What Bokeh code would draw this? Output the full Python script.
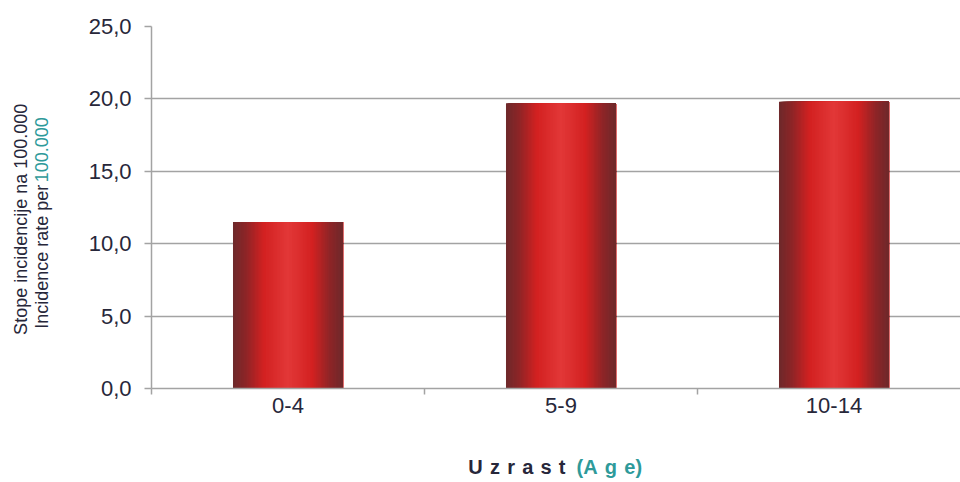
import math
from bokeh.plotting import figure
from bokeh.layouts import row, column
from bokeh.models import Range1d, FixedTicker
from bokeh.core.properties import value
from bokeh.embed import file_html
from bokeh.resources import INLINE

# ---- data ----
categories = ["0-4", "5-9", "10-14"]
values = [11.5, 19.7, 19.8]
y_ticks = [0, 5, 10, 15, 20, 25]
y_tick_labels = ["0,0", "5,0", "10,0", "15,0", "20,0", "25,0"]
y_title_1 = "Stope incidencije na 100.000"
y_title_2a = "Incidence rate per"
y_title_2b = "100.000"
x_title_a = "Uzrast"
x_title_b = "(Age)"

# ---- styles ----
TXT = "#27273a"
TEAL = "#2e9a9a"
GRID = "#a3a3a3"
FONT = "Liberation Sans"
stops = [(0.0, (0x6d, 0x29, 0x2b)), (0.12, (0x8e, 0x25, 0x27)), (0.28, (0xd3, 0x21, 0x21)),
         (0.5, (0xe2, 0x38, 0x38)), (0.72, (0xd3, 0x21, 0x21)), (0.88, (0x8e, 0x25, 0x27)),
         (1.0, (0x6d, 0x29, 0x2b))]


def grad(t):
    for (t0, c0), (t1, c1) in zip(stops[:-1], stops[1:]):
        if t0 <= t <= t1:
            f = (t - t0) / (t1 - t0)
            return "#%02x%02x%02x" % tuple(int(round(a + (b - a) * f)) for a, b in zip(c0, c1))
    return "#%02x%02x%02x" % stops[-1][1]


TOTAL_W, TOTAL_H = 960, 482
LEFT_W = 60
MAIN_W = TOTAL_W - LEFT_W
MAIN_H = 430
BOT_H = TOTAL_H - MAIN_H
FRAME_LEFT = 151 - LEFT_W
cat_px = 273.0
frame_w = MAIN_W - FRAME_LEFT


def blank(w, h):
    f = figure(width=w, height=h, output_backend="svg", toolbar_location=None,
               x_range=Range1d(0, w), y_range=Range1d(0, h),
               x_axis_type=None, y_axis_type=None,
               min_border=0, min_border_left=0, min_border_right=0,
               min_border_top=0, min_border_bottom=0)
    f.outline_line_color = None
    f.xgrid.visible = False
    f.ygrid.visible = False
    f.background_fill_color = "white"
    f.border_fill_color = "white"
    return f


# ---- main plot ----
p = figure(width=MAIN_W, height=MAIN_H, output_backend="svg", toolbar_location=None,
           x_range=Range1d(0, frame_w / cat_px), y_range=Range1d(0, 25),
           min_border_left=FRAME_LEFT, min_border_right=0, min_border_top=26,
           min_border_bottom=MAIN_H - 388)
p.outline_line_color = None
p.background_fill_color = "white"
p.border_fill_color = "white"

# bars: horizontal gradient built from overlapping strips (each strip runs to the bar's right edge)
bw = 0.403
N = 80
L, R, T, C = [], [], [], []
for i, v in enumerate(values):
    xc = i + 0.5
    for k in range(N):
        l = xc - bw / 2 + k * bw / N
        L.append(l)
        R.append(xc + bw / 2)
        T.append(v)
        C.append(grad((k + 0.5) / N))
p.quad(left=L, right=R, top=T, bottom=0, fill_color=C, line_color=None)

p.yaxis.ticker = FixedTicker(ticks=y_ticks, minor_ticks=[])
p.yaxis.major_label_overrides = {t: s for t, s in zip(y_ticks, y_tick_labels)}
p.yaxis.axis_line_color = GRID
p.yaxis.axis_line_width = 1.5
p.yaxis.major_tick_line_color = GRID
p.yaxis.major_tick_line_width = 1.5
p.yaxis.major_tick_in = 0
p.yaxis.major_tick_out = 7
p.yaxis.major_label_standoff = 13
p.yaxis.major_label_text_font = FONT
p.yaxis.major_label_text_font_size = "22px"
p.yaxis.major_label_text_color = TXT

centers = [i + 0.5 for i in range(len(categories))]
p.xaxis.ticker = FixedTicker(ticks=centers, minor_ticks=[0, 1, 2, 3])
p.xaxis.major_label_overrides = {c: s for c, s in zip(centers, categories)}
p.xaxis.axis_line_color = GRID
p.xaxis.axis_line_width = 1.5
p.xaxis.major_tick_line_color = None
p.xaxis.major_tick_in = 0
p.xaxis.major_tick_out = 0
p.xaxis.minor_tick_line_color = GRID
p.xaxis.minor_tick_line_width = 1.5
p.xaxis.minor_tick_in = 0
p.xaxis.minor_tick_out = 6
p.xaxis.major_label_standoff = 3
p.xaxis.major_label_text_font = FONT
p.xaxis.major_label_text_font_size = "22px"
p.xaxis.major_label_text_color = TXT

p.ygrid.grid_line_color = GRID
p.ygrid.grid_line_width = 1.5
p.xgrid.grid_line_color = None

# ---- left panel: y-axis titles ----
lp = blank(LEFT_W, MAIN_H)
split = MAIN_H - 185
lp.text(x=[20], y=[MAIN_H - 229], text=[y_title_1], angle=math.pi / 2,
        text_align="center", text_baseline="middle", text_font=value(FONT),
        text_font_size="18px", text_color=TXT)
lp.text(x=[41], y=[split - 3], text=[y_title_2a], angle=math.pi / 2,
        text_align="right", text_baseline="middle", text_font=value(FONT),
        text_font_size="18px", text_color=TXT)
lp.text(x=[41], y=[split], text=[y_title_2b], angle=math.pi / 2,
        text_align="left", text_baseline="middle", text_font=value(FONT),
        text_font_size="18px", text_color=TEAL)

# ---- bottom panel: x-axis title ----
bp = blank(TOTAL_W, BOT_H)
sp = "\u00a0\u200a"
ty = TOTAL_H - 466
title_a = sp.join(x_title_a)
title_b = x_title_b[0] + sp.join(x_title_b[1:-1]) + x_title_b[-1]
bp.text(x=[565], y=[ty], text=[title_a], text_align="right",
        text_baseline="middle", text_font=value(FONT), text_font_size="20px",
        text_font_style="bold", text_color=TXT)
bp.text(x=[576], y=[ty], text=[title_b], text_align="left",
        text_baseline="middle", text_font=value(FONT), text_font_size="20px",
        text_font_style="bold", text_color=TEAL)

layout = column(row(lp, p, spacing=0), bp, spacing=0)
open("out.html", "w").write(file_html(layout, INLINE))
